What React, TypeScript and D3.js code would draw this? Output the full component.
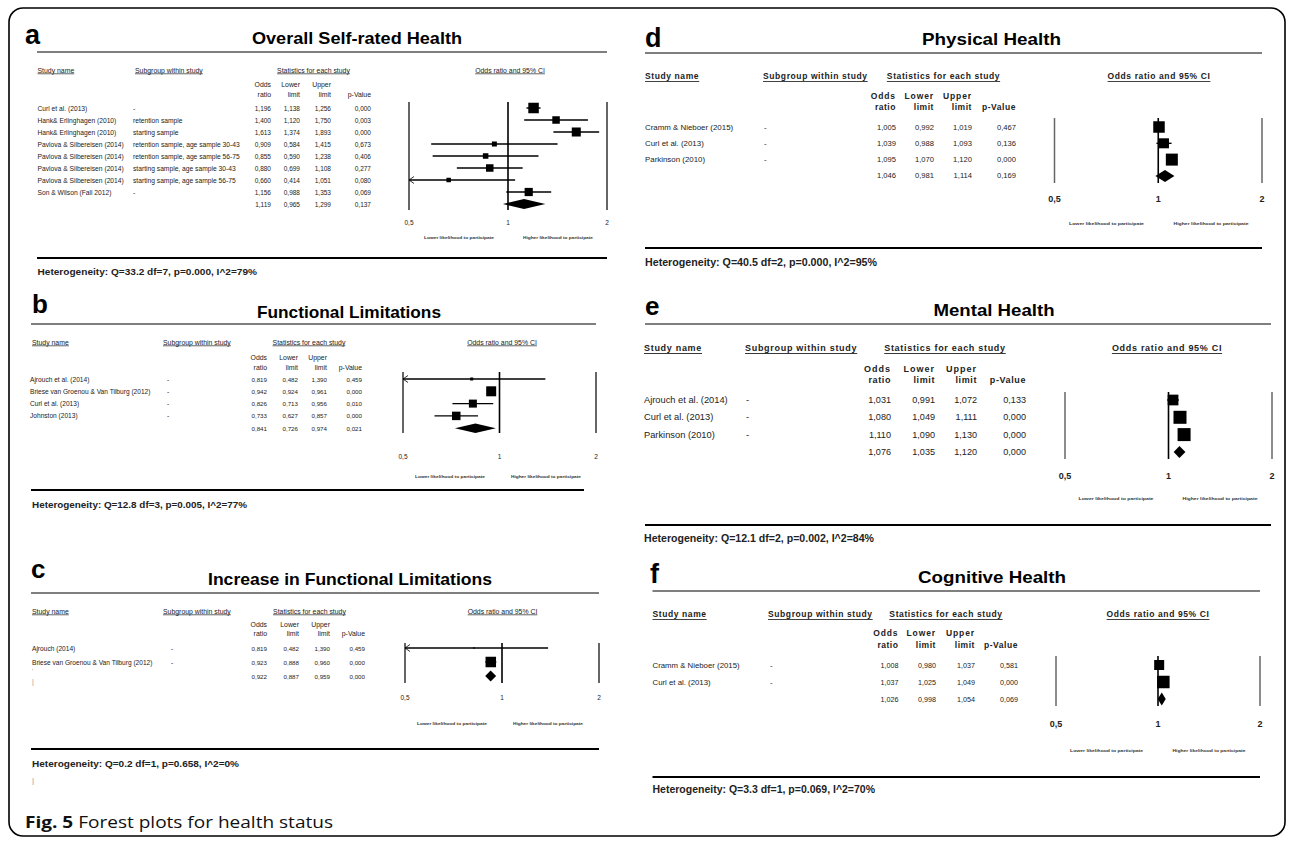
import React from 'react';
import * as d3 from 'd3';

// ---------------- DATA ----------------
const tickValues = [0.5, 1, 2];
const tickLabels = ['0,5', '1', '2'];
const lowerLabel = 'Lower likelihood to participate';
const higherLabel = 'Higher likelihood to participate';
const headerLabels = ['Study name', 'Subgroup within study', 'Statistics for each study', 'Odds ratio and 95% CI'];
const colHeadTop = ['Odds', 'Lower', 'Upper', ''];
const colHeadBottom = ['ratio', 'limit', 'limit', 'p-Value'];

// a - Overall Self-rated Health
const aTitle = 'Overall Self-rated Health';
const aStudies = ['Curl et al. (2013)', 'Hank& Erlinghagen (2010)', 'Hank& Erlinghagen (2010)', 'Pavlova & Silbereisen (2014)', 'Pavlova & Silbereisen (2014)', 'Pavlova & Silbereisen (2014)', 'Pavlova & Silbereisen (2014)', 'Son & Wilson (Fall 2012)'];
const aSubgroups = ['-', 'retention sample', 'starting sample', 'retention sample, age sample 30-43', 'retention sample, age sample 56-75', 'starting sample, age sample 30-43', 'starting sample, age sample 56-75', '-'];
const aOdds = [1.196, 1.4, 1.613, 0.909, 0.855, 0.88, 0.66, 1.156];
const aLower = [1.138, 1.12, 1.374, 0.584, 0.59, 0.699, 0.414, 0.988];
const aUpper = [1.256, 1.75, 1.893, 1.415, 1.238, 1.108, 1.051, 1.353];
const aP = [0.0, 0.003, 0.0, 0.673, 0.406, 0.277, 0.08, 0.069];
const aWeights = [24.7, 12.6, 18.2, 5.6, 6.8, 12.6, 4.5, 15.1];
const aSummary = [1.119, 0.965, 1.299, 0.137];
const aHetero = 'Heterogeneity: Q=33.2 df=7, p=0.000, I^2=79%';

// b - Functional Limitations
const bTitle = 'Functional Limitations';
const bStudies = ['Ajrouch et al. (2014)', 'Briese van Groenou & Van Tilburg (2012)', 'Curl et al. (2013)', 'Johnston (2013)'];
const bSubgroups = ['-', '-', '-', '-'];
const bOdds = [0.819, 0.942, 0.826, 0.733];
const bLower = [0.482, 0.924, 0.713, 0.627];
const bUpper = [1.39, 0.961, 0.956, 0.857];
const bP = [0.459, 0.0, 0.01, 0.0];
const bWeights = [3.7, 40.8, 26.1, 29.4];
const bSummary = [0.841, 0.726, 0.974, 0.021];
const bHetero = 'Heterogeneity: Q=12.8 df=3, p=0.005, I^2=77%';

// c - Increase in Functional Limitations
const cTitle = 'Increase in Functional Limitations';
const cStudies = ['Ajrouch (2014)', 'Briese van Groenou & Van Tilburg (2012)'];
const cSubgroups = ['-', '-'];
const cOdds = [0.819, 0.923];
const cLower = [0.482, 0.888];
const cUpper = [1.39, 0.96];
const cP = [0.459, 0.0];
const cWeights = [2, 98];
const cSummary = [0.922, 0.887, 0.959, 0.0];
const cHetero = 'Heterogeneity: Q=0.2 df=1, p=0.658, I^2=0%';

// d - Physical Health
const dTitle = 'Physical Health';
const dStudies = ['Cramm & Nieboer (2015)', 'Curl et al. (2013)', 'Parkinson (2010)'];
const dSubgroups = ['-', '-', '-'];
const dOdds = [1.005, 1.039, 1.095];
const dLower = [0.992, 0.988, 1.07];
const dUpper = [1.019, 1.093, 1.12];
const dP = [0.467, 0.136, 0.0];
const dWeights = [35.1, 26.6, 38.3];
const dSummary = [1.046, 0.981, 1.114, 0.169];
const dHetero = 'Heterogeneity: Q=40.5 df=2, p=0.000, I^2=95%';

// e - Mental Health
const eTitle = 'Mental Health';
const eStudies = ['Ajrouch et al. (2014)', 'Curl et al. (2013)', 'Parkinson (2010)'];
const eSubgroups = ['-', '-', '-'];
const eOdds = [1.031, 1.08, 1.11];
const eLower = [0.991, 1.049, 1.09];
const eUpper = [1.072, 1.111, 1.13];
const eP = [0.133, 0.0, 0.0];
const eWeights = [25.3, 37.3, 37.3];
const eSummary = [1.076, 1.035, 1.12, 0.0];
const eHetero = 'Heterogeneity: Q=12.1 df=2, p=0.002, I^2=84%';

// f - Cognitive Health
const fTitle = 'Cognitive Health';
const fStudies = ['Cramm & Nieboer (2015)', 'Curl et al. (2013)'];
const fSubgroups = ['-', '-'];
const fOdds = [1.008, 1.037];
const fLower = [0.98, 1.025];
const fUpper = [1.037, 1.049];
const fP = [0.581, 0.0];
const fWeights = [39, 61];
const fSummary = [1.026, 0.998, 1.054, 0.069];
const fHetero = 'Heterogeneity: Q=3.3 df=1, p=0.069, I^2=70%';

const captionBold = 'Fig. 5';
const captionText = ' Forest plots for health status';

// ---------------- LAYOUT ----------------
const FONT = "'Liberation Sans', Arial, Helvetica, sans-serif";

const panels = [
  { letter: 'a', title: aTitle, studies: aStudies, subgroups: aSubgroups, odds: aOdds, lower: aLower, upper: aUpper, p: aP, weights: aWeights, summary: aSummary, hetero: aHetero },
  { letter: 'b', title: bTitle, studies: bStudies, subgroups: bSubgroups, odds: bOdds, lower: bLower, upper: bUpper, p: bP, weights: bWeights, summary: bSummary, hetero: bHetero },
  { letter: 'c', title: cTitle, studies: cStudies, subgroups: cSubgroups, odds: cOdds, lower: cLower, upper: cUpper, p: cP, weights: cWeights, summary: cSummary, hetero: cHetero },
  { letter: 'd', title: dTitle, studies: dStudies, subgroups: dSubgroups, odds: dOdds, lower: dLower, upper: dUpper, p: dP, weights: dWeights, summary: dSummary, hetero: dHetero },
  { letter: 'e', title: eTitle, studies: eStudies, subgroups: eSubgroups, odds: eOdds, lower: eLower, upper: eUpper, p: eP, weights: eWeights, summary: eSummary, hetero: eHetero },
  { letter: 'f', title: fTitle, studies: fStudies, subgroups: fSubgroups, odds: fOdds, lower: fLower, upper: fUpper, p: fP, weights: fWeights, summary: fSummary, hetero: fHetero },
];

const layouts: any[] = [
  { lx: 25, ly: 44, lfs: 27, tcx: 357, ty: 44, tw: 210, tfs: 16, rx1: 37, rx2: 607, ry: 52, bx2: 607, by: 258,
    hy: 70, hfs: 6.9, hbold: false, hls: 0, hx: [37.5, 135, 313.5, 510], col: [271, 300, 331, 371], oy1: 84, oy2: 94, cfs: 6.9, cls: 0,
    y0: 108, step: 12, nx: 37.5, sx: 133, nfs: 6.7, vfs: 6.5,
    fx1: 409, fx2: 607, vy1: 102, vy2: 210, tky: 222, tkfs: 6.5, tkbold: false,
    liky: 237, likc: [459, 558], likw: 70, hex: 37.5, hew: 219.5, hey: 271, hefs: 9.5, maxSq: 10.5, dh: 10, outer: '#333' },
  { lx: 32, ly: 313, lfs: 26, tcx: 349, ty: 318, tw: 184, tfs: 17, rx1: 31, rx2: 596, ry: 324, bx2: 584, by: 490,
    hy: 342, hfs: 6.9, hbold: false, hls: 0, hx: [32, 163, 309, 502], col: [267, 298, 327, 362], oy1: 357, oy2: 367, cfs: 6.9, cls: 0,
    y0: 379, step: 12.3, nx: 30, sx: 167, nfs: 6.6, vfs: 6.2,
    fx1: 403, fx2: 596, vy1: 372, vy2: 433, tky: 456, tkfs: 6.5, tkbold: false,
    liky: 476, likc: [450, 546], likw: 70, hex: 32, hew: 215, hey: 504, hefs: 9.5, maxSq: 10, dh: 9.5, outer: '#333' },
  { lx: 31, ly: 578, lfs: 26, tcx: 350, ty: 585, tw: 284, tfs: 17, rx1: 31, rx2: 599, ry: 593, bx2: 599, by: 749,
    hy: 611, hfs: 6.9, hbold: false, hls: 0, hx: [32, 163, 309.5, 502.5], col: [267, 299, 330, 365], oy1: 624, oy2: 633, cfs: 6.9, cls: 0,
    y0: 648, step: 14, nx: 32, sx: 171, nfs: 6.6, vfs: 6.2,
    fx1: 405, fx2: 599, vy1: 643, vy2: 683, tky: 697, tkfs: 6.5, tkbold: false,
    liky: 723, likc: [452, 548], likw: 70, hex: 32, hew: 207, hey: 763, hefs: 9.5, maxSq: 10.5, dh: 11, outer: '#333' },
  { lx: 645, ly: 47, lfs: 27, tcx: 991.5, ty: 45, tw: 139, tfs: 17, rx1: 645, rx2: 1262, ry: 53, bx2: 1262, by: 248,
    hy: 76, hfs: 8.5, hbold: true, hls: 0.6, hx: [645, 763, 943.5, 1159], col: [896, 934, 972, 1016], oy1: 96, oy2: 107, cfs: 8.5, cls: 0.9,
    y0: 127, step: 16.3, nx: 645, sx: 764, nfs: 7.9, vfs: 7.6,
    fx1: 1054.5, fx2: 1262, vy1: 118, vy2: 183, tky: 199, tkfs: 9, tkbold: true,
    liky: 223, likc: [1106.5, 1211], likw: 75, hex: 645, hew: 232, hey: 262, hefs: 10, maxSq: 12, dh: 12, outer: '#666' },
  { lx: 645, ly: 315, lfs: 26, tcx: 994, ty: 316, tw: 121, tfs: 16, rx1: 645, rx2: 1271, ry: 324, bx2: 1271, by: 525,
    hy: 348, hfs: 9, hbold: true, hls: 0.7, hx: [644, 745, 945, 1167], col: [891, 935, 977, 1026], oy1: 369, oy2: 380, cfs: 9, cls: 1,
    y0: 400, step: 17.3, nx: 644, sx: 746, nfs: 9.3, vfs: 9.1,
    fx1: 1065, fx2: 1272, vy1: 392, vy2: 459, tky: 476, tkfs: 9, tkbold: true,
    liky: 498, likc: [1116, 1220], likw: 75, hex: 644, hew: 230, hey: 538, hefs: 10, maxSq: 13, dh: 12, outer: '#666' },
  { lx: 650, ly: 583, lfs: 27, tcx: 992, ty: 583, tw: 148, tfs: 17, rx1: 652.5, rx2: 1260, ry: 591, bx2: 1260, by: 777,
    hy: 614, hfs: 8.5, hbold: true, hls: 0.6, hx: [652.5, 768, 946, 1158], col: [898.5, 936, 975, 1018], oy1: 633, oy2: 645, cfs: 8.5, cls: 0.9,
    y0: 665, step: 17, nx: 652.5, sx: 770, nfs: 7.8, vfs: 7.2,
    fx1: 1056, fx2: 1260, vy1: 656, vy2: 706, tky: 724, tkfs: 9, tkbold: true,
    liky: 750, likc: [1106.6, 1209], likw: 73, hex: 652.5, hew: 222.5, hey: 789, hefs: 10, maxSq: 12.5, dh: 13, outer: '#666' },
];

const fmt = (v: number) => d3.format('.3f')(v).replace('.', ',');

function Panel({ d, L }: { d: any; L: any }) {
  const x = d3.scaleLog().domain([0.5, 2]).range([L.fx1, L.fx2]);
  const y = d3.scaleLinear().domain([0, 1]).range([L.y0, L.y0 + L.step]);
  const size = d3.scaleSqrt().domain([0, d3.max(d.weights as number[]) as number]).range([0, L.maxSq]);
  const n = d.studies.length;
  const cols = [d.odds, d.lower, d.upper, d.p];
  const sumY = y(n);
  const [sOr, sLo, sUp] = d.summary;
  const diamond = d3.line()([
    [x(sLo), sumY], [x(sOr), sumY - L.dh / 2], [x(sUp), sumY], [x(sOr), sumY + L.dh / 2],
  ]) + 'Z';
  const txt = { fontFamily: FONT } as any;
  return (
    <g>
      <text x={L.lx} y={L.ly} fontSize={L.lfs} fontWeight="bold" style={txt}>{d.letter}</text>
      <text x={L.tcx - L.tw / 2} y={L.ty} fontSize={L.tfs} fontWeight="bold" textLength={L.tw} lengthAdjust="spacingAndGlyphs" style={txt}>{d.title}</text>
      <line x1={L.rx1} x2={L.rx2} y1={L.ry} y2={L.ry} stroke="#555" strokeWidth={1.3} />
      {headerLabels.map((h, i) => (
        <text key={h} x={L.hx[i]} y={L.hy} dominantBaseline="central" textAnchor={i < 2 ? 'start' : 'middle'}
          fontSize={L.hfs} fontWeight={L.hbold ? 'bold' : 'normal'} letterSpacing={L.hls} fill="#222"
          style={{ ...txt, textDecoration: 'underline' }}>{h}</text>
      ))}
      {colHeadTop.map((h, i) => (
        <text key={'t' + i} x={L.col[i]} y={L.oy1} dominantBaseline="central" textAnchor="end" fontSize={L.cfs}
          fontWeight={L.hbold ? 'bold' : 'normal'} letterSpacing={L.cls} fill="#222" style={txt}>{h}</text>
      ))}
      {colHeadBottom.map((h, i) => (
        <text key={'b' + i} x={L.col[i]} y={L.oy2} dominantBaseline="central" textAnchor="end" fontSize={L.cfs}
          fontWeight={L.hbold ? 'bold' : 'normal'} letterSpacing={L.cls * 0.6} fill="#222" style={txt}>{h}</text>
      ))}
      {d.studies.map((s: string, i: number) => (
        <g key={i}>
          <text x={L.nx} y={y(i)} dominantBaseline="central" fontSize={L.nfs} fill="#222" style={txt}>{s}</text>
          <text x={L.sx} y={y(i)} dominantBaseline="central" fontSize={L.nfs} fill="#222" style={txt}>{d.subgroups[i]}</text>
          {cols.map((c: number[], j: number) => (
            <text key={j} x={L.col[j]} y={y(i)} dominantBaseline="central" textAnchor="end" fontSize={L.vfs} fill="#222" style={txt}>{fmt(c[i])}</text>
          ))}
        </g>
      ))}
      {d.summary.map((v: number, j: number) => (
        <text key={'s' + j} x={L.col[j]} y={sumY} dominantBaseline="central" textAnchor="end" fontSize={L.vfs} fill="#222" style={txt}>{fmt(v)}</text>
      ))}
      {tickValues.map((t, i) => (
        <line key={'v' + i} x1={x(t)} x2={x(t)} y1={L.vy1} y2={L.vy2} stroke={t === 1 ? '#000' : L.outer} strokeWidth={t === 1 ? 1.6 : 1.5} />
      ))}
      {tickValues.map((t, i) => (
        <text key={'tk' + i} x={x(t)} y={L.tky} dominantBaseline="central" textAnchor="middle" fontSize={L.tkfs}
          fontWeight={L.tkbold ? 'bold' : 'normal'} fill="#222" style={txt}>{tickLabels[i]}</text>
      ))}
      {d.studies.map((s: string, i: number) => {
        const lo = Math.max(d.lower[i], 0.5);
        const hi = Math.min(d.upper[i], 2);
        const sz = size(d.weights[i]);
        return (
          <g key={'f' + i}>
            <line x1={x(lo)} x2={x(hi)} y1={y(i)} y2={y(i)} stroke="#000" strokeWidth={1.4} />
            {d.lower[i] < 0.5 && (
              <polyline points={`${x(0.5) + 5},${y(i) - 3.5} ${x(0.5)},${y(i)} ${x(0.5) + 5},${y(i) + 3.5}`} fill="none" stroke="#000" strokeWidth={0.8} />
            )}
            <rect x={x(d.odds[i]) - sz / 2} y={y(i) - sz / 2} width={sz} height={sz} fill="#000" />
          </g>
        );
      })}
      <path d={diamond} fill="#000" />
      <text x={L.likc[0]} y={L.liky} dominantBaseline="central" textAnchor="middle" fontSize={4.2} fontWeight="bold"
        textLength={L.likw} lengthAdjust="spacingAndGlyphs" fill="#333" style={txt}>{lowerLabel}</text>
      <text x={L.likc[1]} y={L.liky} dominantBaseline="central" textAnchor="middle" fontSize={4.2} fontWeight="bold"
        textLength={L.likw} lengthAdjust="spacingAndGlyphs" fill="#333" style={txt}>{higherLabel}</text>
      <line x1={L.rx1} x2={L.bx2} y1={L.by} y2={L.by} stroke="#000" strokeWidth={2} />
      <text x={L.hex} y={L.hey} dominantBaseline="central" fontSize={L.hefs} fontWeight="bold" textLength={L.hew}
        lengthAdjust="spacingAndGlyphs" fill="#222" style={txt}>{d.hetero}</text>
    </g>
  );
}

export default function App() {
  return (
    <svg width={1292} height={841} viewBox="0 0 1292 841" style={{ position: 'absolute', left: 0, top: 0, background: '#fff' }}>
      <rect x={0} y={0} width={1292} height={841} fill="#fff" />
      <rect x={9} y={8} width={1276} height={828} rx={14} ry={14} fill="none" stroke="#000" strokeWidth={1.6} />
      {panels.map((p, i) => <Panel key={p.letter} d={p} L={layouts[i]} />)}
      <text x={32} y={673} fontSize={6} fill="#777" style={{ fontFamily: FONT }}>'</text>
      <text x={32} y={684} fontSize={7} fill="#999" style={{ fontFamily: FONT }}>|</text>
      <text x={32} y={771} fontSize={6} fill="#777" style={{ fontFamily: FONT }}>'</text>
      <text x={32} y={783} fontSize={8} fill="#999" style={{ fontFamily: FONT }}>|</text>
      <text x={25} y={822} dominantBaseline="central" fontSize={16} textLength={308} lengthAdjust="spacingAndGlyphs"
        style={{ fontFamily: "'Open Sans', 'Noto Sans', sans-serif" }} fill="#111">
        <tspan fontWeight="bold">{captionBold}</tspan>
        <tspan>{captionText}</tspan>
      </text>
    </svg>
  );
}
